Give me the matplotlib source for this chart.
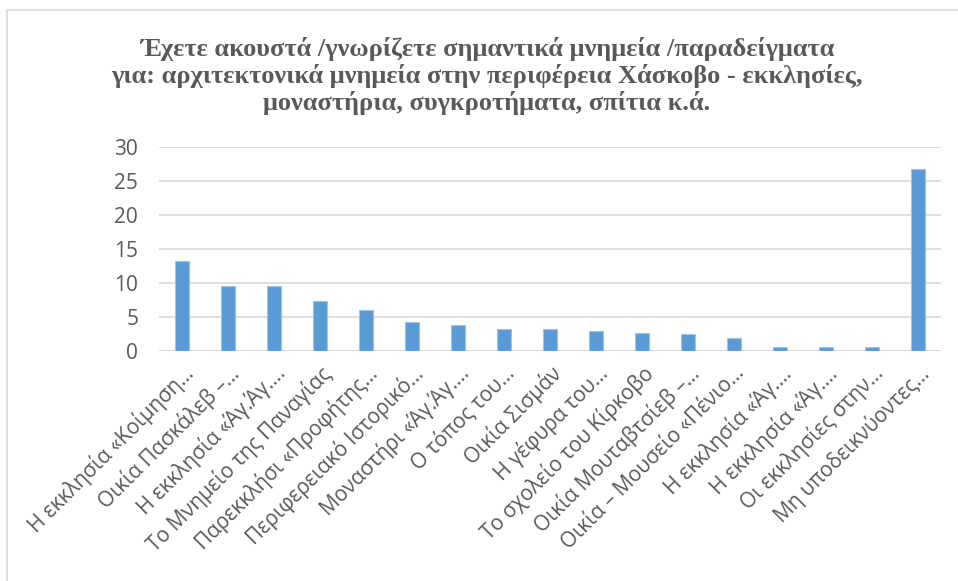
import matplotlib.pyplot as plt
from matplotlib.patches import Rectangle

labels = [
    "Η εκκλησία «Κοίμηση…",
    "Οικία Πασκάλεβ –…",
    "Η εκκλησία «Άγ.Άγ.…",
    "Το Μνημείο της Παναγίας",
    "Παρεκκλήσι «Προφήτης…",
    "Περιφερειακό Ιστορικό…",
    "Μοναστήρι «Άγ.Άγ.…",
    "Ο τόπος του…",
    "Οικία Σισμάν",
    "Η γέφυρα του…",
    "Το σχολείο του Κίρκοβο",
    "Οικία Μουταβτσίεβ –…",
    "Οικία – Μουσείο «Πένιο…",
    "Η εκκλησία «Άγ.…",
    "Η εκκλησία «Άγ.…",
    "Οι εκκλησίες στην…",
    "Μη υποδεικνύοντες…",
]
values = [13.3, 9.5, 9.5, 7.4, 6.1, 4.2, 3.9, 3.2, 3.2, 3.0, 2.6, 2.5, 1.9, 0.6, 0.6, 0.6, 26.8]
yticks = [0, 5, 10, 15, 20, 25, 30]

title = ("Έχετε ακουστά /γνωρίζετε σημαντικά μνημεία /παραδείγματα\n"
         "για: αρχιτεκτονικά μνημεία στην περιφέρεια Χάσκοβο - εκκλησίες,\n"
         "μοναστήρια, συγκροτήματα, σπίτια κ.ά.")

grey = "#595959"
fig = plt.figure(figsize=(9.58, 5.81), dpi=100)

# chart border (cropped on right/bottom)
fig.patches.append(Rectangle((7 / 958, -0.1), 1.2, 1 - 10 / 581 + 0.1,
                             transform=fig.transFigure, fill=False,
                             edgecolor="#D9D9D9", lw=1.2))

ax = fig.add_axes([159 / 958, 1 - 351 / 581, (941 - 159) / 958, (351 - 147.3) / 581])
x = list(range(len(values)))
ax.bar(x, values, width=0.32, color="#5B9BD5", edgecolor="#9DC3E6", lw=0.8, zorder=3)
ax.set_xlim(-0.5, len(values) - 0.5)
ax.set_ylim(0, 30)
ax.set_yticks(yticks)
ax.yaxis.grid(True, color="#D9D9D9", lw=1.2, zorder=0)
for s in ax.spines.values():
    s.set_visible(False)
ax.axhline(0, color="#D9D9D9", lw=1.2, zorder=2)
ax.tick_params(axis="both", length=0, colors=grey)
ax.tick_params(axis="y", labelsize=15, pad=15)
ax.set_xticks(x)
ax.set_xticklabels(labels, rotation=45, ha="right", rotation_mode="anchor",
                   fontsize=15, family="Open Sans", color=grey)
for t in ax.get_yticklabels():
    t.set_family("Open Sans")
ax.tick_params(axis="x", pad=8)

fig.text(487 / 958, 1 - 76 / 581, title, ha="center", va="center", fontsize=19,
         fontweight="bold", family="Liberation Serif", color=grey, linespacing=1.15)

fig.savefig("out.png", dpi=100)
